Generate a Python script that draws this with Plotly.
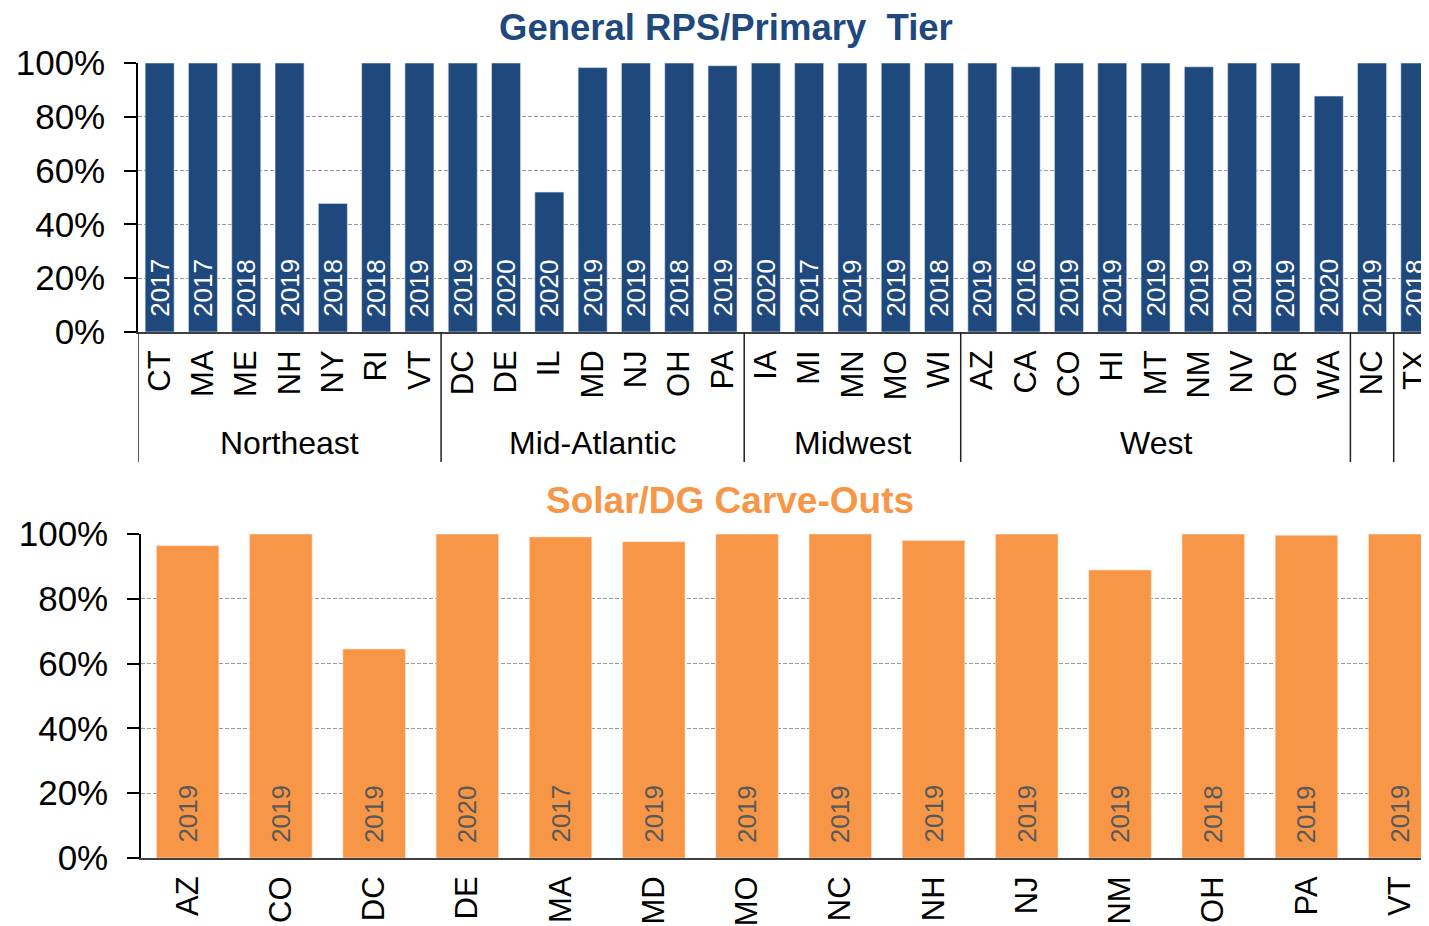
import plotly.graph_objects as go

# top panel: general RPS / primary tier
states_top = ["CT", "MA", "ME", "NH", "NY", "RI", "VT",
              "DC", "DE", "IL", "MD", "NJ", "OH", "PA",
              "IA", "MI", "MN", "MO", "WI",
              "AZ", "CA", "CO", "HI", "MT", "NM", "NV", "OR", "WA",
              "NC", "TX"]
years_top = ["2017", "2017", "2018", "2019", "2018", "2018", "2019",
             "2019", "2020", "2020", "2019", "2019", "2018", "2019",
             "2020", "2017", "2019", "2019", "2018",
             "2019", "2016", "2019", "2019", "2019", "2019", "2019", "2019", "2020",
             "2019", "2018"]
pct_top = [1.00, 1.00, 1.00, 1.00, 0.478, 1.00, 1.00,
           1.00, 1.00, 0.52, 0.983, 1.00, 1.00, 0.99,
           1.00, 1.00, 1.00, 1.00, 1.00,
           1.00, 0.986, 1.00, 1.00, 1.00, 0.986, 1.00, 1.00, 0.877,
           1.00, 1.00]
region_names = ["Northeast", "Mid-Atlantic", "Midwest", "West", "", ""]
region_sizes = [7, 7, 5, 9, 1, 1]

# bottom panel: solar / DG carve-outs
states_bot = ["AZ", "CO", "DC", "DE", "MA", "MD", "MO", "NC", "NH", "NJ", "NM", "OH", "PA", "VT"]
years_bot = ["2019", "2019", "2019", "2020", "2017", "2019", "2019", "2019", "2019", "2019",
             "2019", "2018", "2019", "2019"]
pct_bot = [0.964, 1.00, 0.645, 1.00, 0.991, 0.976, 1.00, 1.00, 0.98, 1.00,
           0.889, 1.00, 0.996, 1.00]

# page body has an 8px margin, so the figure starts at (8, 8) in the window;
# the right-hand end runs past the window edge, as the bars do in the original
OFF = 8
W, H = 1429, 926 - OFF
BLUE = "#1F497D"
ORANGE = "#F79646"
FONT = "Liberation Sans, Arial, sans-serif"


def px_x(v):
    return (v - OFF) / W


def px_y(v):
    return 1 - (v - OFF) / H


fig = go.Figure()
fig.add_trace(go.Bar(x=states_top, y=pct_top, marker=dict(color=BLUE, line=dict(color="#dfe6ef", width=0.6)),
                     width=0.67, xaxis="x", yaxis="y", hoverinfo="x+y"))
fig.add_trace(go.Bar(x=states_bot, y=pct_bot, marker=dict(color=ORANGE, line=dict(color="#fde2cc", width=0.6)),
                     width=0.67, xaxis="x2", yaxis="y2", hoverinfo="x+y"))

# year labels at the base of each bar
for s, yr in zip(states_top, years_top):
    fig.add_annotation(x=s, y=0, xref="x", yref="y", text=yr, textangle=-90,
                       showarrow=False, yanchor="bottom", yshift=13,
                       font=dict(family=FONT, size=26, color="white"))
for s, yr in zip(states_bot, years_bot):
    fig.add_annotation(x=s, y=0, xref="x2", yref="y2", text=yr, textangle=-90,
                       showarrow=False, yanchor="bottom", yshift=13,
                       font=dict(family=FONT, size=26, color="#595959"))

# region labels and separators under the top axis
start = 0
bounds = [-0.5]
for name, n in zip(region_names, region_sizes):
    if name:
        fig.add_annotation(x=start + (n - 1) / 2, y=px_y(443), xref="x", yref="paper", text=name,
                           showarrow=False, xanchor="center", yanchor="middle",
                           font=dict(family=FONT, size=32, color="black"))
    start += n
    bounds.append(start - 0.5)
for b in bounds:
    fig.add_shape(type="line", xref="x", yref="paper", x0=b, x1=b, y0=px_y(332), y1=px_y(462),
                  line=dict(color="#202020", width=1.5))

fig.add_annotation(x=px_x(726), y=px_y(27), xref="paper", yref="paper",
                   text="<b>General RPS/Primary\u00a0 Tier</b>", showarrow=False,
                   xanchor="center", yanchor="middle",
                   font=dict(family=FONT, size=36.5, color=BLUE))
fig.add_annotation(x=px_x(730), y=px_y(500), xref="paper", yref="paper",
                   text="<b>Solar/DG Carve-Outs</b>", showarrow=False,
                   xanchor="center", yanchor="middle",
                   font=dict(family=FONT, size=37, color=ORANGE))

yax = dict(range=[0, 1.0], tickvals=[0, 0.2, 0.4, 0.6, 0.8, 1.0],
           ticktext=["0%", "20%", "40%", "60%", "80%", "100%"],
           showgrid=True, gridcolor="#9a9a9a", griddash="4px,2px", gridwidth=1,
           showline=True, linecolor="black", linewidth=1.5,
           ticks="outside", ticklen=12, tickcolor="black", tickwidth=1.5,
           ticklabelstandoff=12, zeroline=False,
           tickfont=dict(family=FONT, size=35, color="black"), automargin=False)
xax = dict(type="category", tickangle=-90, ticks="", showline=True, linecolor="#404040", linewidth=2,
           showgrid=False, ticklabelstandoff=4,
           tickfont=dict(family=FONT, size=31, color="black"), automargin=False)

fig.update_layout(
    width=W, height=H,
    margin=dict(t=0, b=0, l=0, r=0),
    paper_bgcolor="white", plot_bgcolor="white",
    showlegend=False, bargap=0.33,
    xaxis=dict(xax, domain=[px_x(138), 1], range=[-0.5, 29.5], anchor="y"),
    yaxis=dict(yax, domain=[px_y(332), px_y(63)], anchor="x"),
    xaxis2=dict(xax, domain=[px_x(141), 1], range=[-0.5, 13.4], anchor="y2"),
    yaxis2=dict(yax, domain=[px_y(858), px_y(534)], anchor="x2"),
)

fig.write_html("out.html")
